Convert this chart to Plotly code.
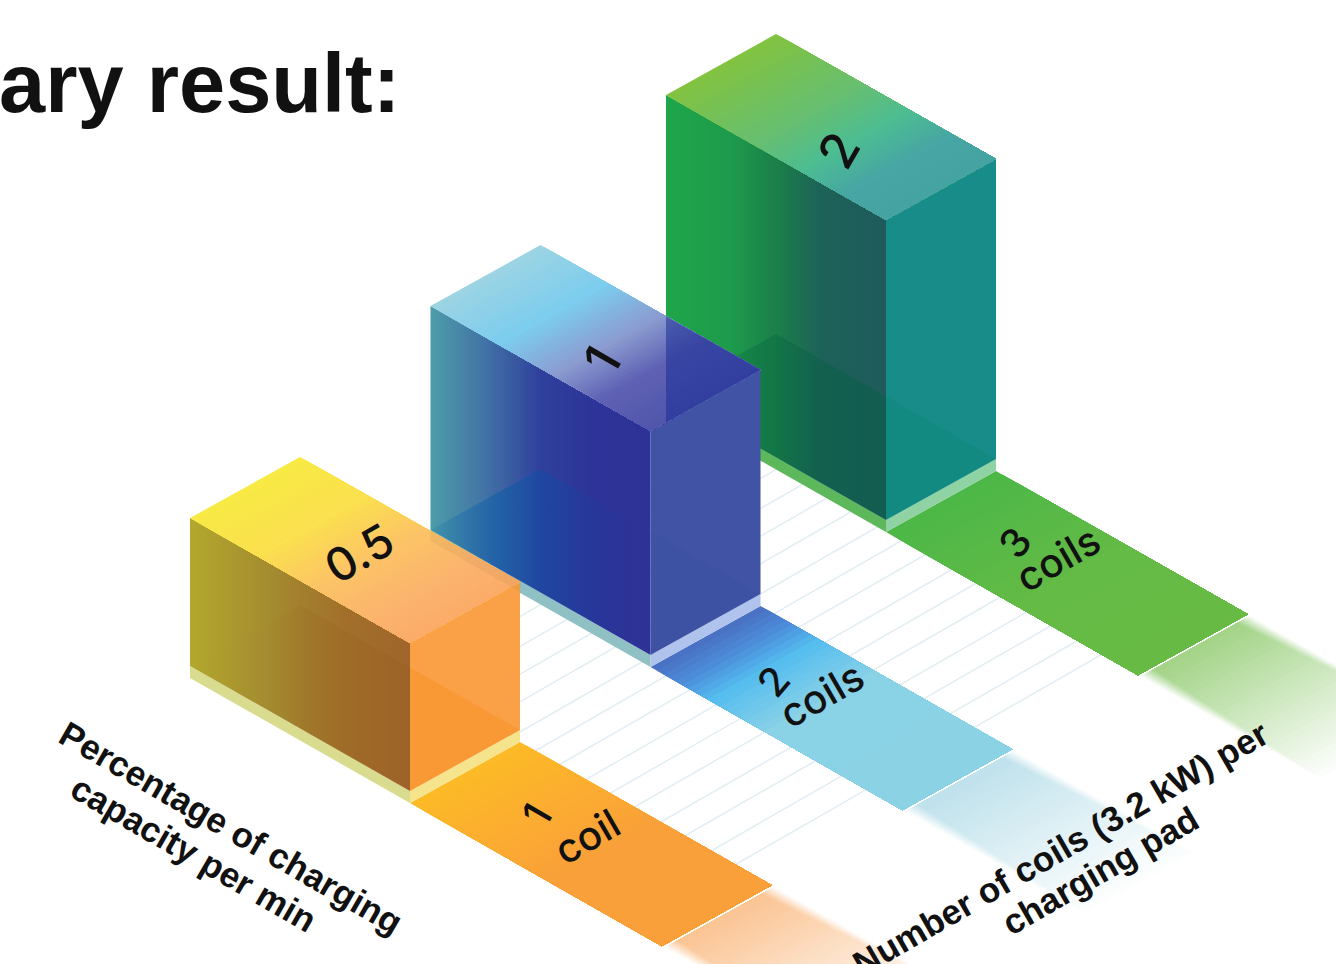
import math
import plotly.graph_objects as go

# ---------- data ----------
coil_counts = [1, 2, 3]
coil_words = ["coil", "coils", "coils"]
charging_rates = [0.5, 1, 2]
rate_labels = ["0.5", "1", "2"]
grid_ticks = [-0.95, -0.84, -0.72, -0.61, -0.50, -0.38, -0.27, -0.16, -0.04,
              0.07, 0.18, 0.30, 0.41, 0.52, 0.64, 0.75, 0.87, 0.98]
title_text = "ary result:"
x_title_lines = ["Percentage of charging", "capacity per min"]
y_title_lines = ["Number of coils (3.2 kW) per", "charging pad"]

# ---------- scales: isometric projection, heights on a log2 scale ----------
OX, OY = 410.0, 791.0
STEP = (238.0, -135.5)
U = (220.0, 125.0)
V = (110.0, -61.0)
FLOOR = -12.0
NUDGE = {1: (0, 0), 2: (2.5, -0.5), 3: (0, 0)}


def height(rate):
    return 224.0 + 76.0 * math.log2(rate)


def pt(coil, u, v, h=0.0):
    nx, ny = NUDGE[coil]
    return (OX + (coil - 1) * STEP[0] + u * U[0] + v * V[0] + nx,
            OY + (coil - 1) * STEP[1] + u * U[1] + v * V[1] - h + ny)


# ---------- styles ----------
def hex2rgb(c):
    c = c.lstrip("#")
    return tuple(int(c[i:i + 2], 16) for i in (0, 2, 4))


def ramp(stops, s):
    for (a, ca), (b, cb) in zip(stops, stops[1:]):
        if s <= b:
            t = (s - a) / (b - a)
            A, B = hex2rgb(ca), hex2rgb(cb)
            return "rgb(%d,%d,%d)" % tuple(A[i] + (B[i] - A[i]) * t for i in range(3))
    return stops[-1][1]


def mix_white(col, a):
    r = hex2rgb(col)
    return "rgb(%d,%d,%d)" % tuple(255 + (r[i] - 255) * a for i in range(3))


STYLE = {
    1: dict(left=[[0, "#B3A82D"], [.35, "#A48C30"], [.7, "#A2702B"], [1, "#A0652B"]],
            top=[(0, "#F8EA45"), (.3, "#FBE04F"), (.55, "#FDC566"), (.8, "#FBB46E"), (1, "#FBAC68")],
            right="#FAA046",
            base_l=[[0, "rgba(130,70,10,0.0)"], [.4, "rgba(130,70,10,0.02)"], [.55, "rgba(130,70,10,0.10)"], [1, "rgba(130,70,10,0.10)"]],
            base_r="rgba(250,140,20,0.30)",
            rim_l="#D9DB8E", rim_r="#F6E48C",
            strip=[(0, "#FDBA27"), (.3, "#FCAC32"), (.55, "#F9A03A"), (1, "#F9A03A")],
            fade="#FBC594", lab=(.477, .49)),
    2: dict(left=[[0, "#4D9DA9"], [.25, "#4272A6"], [.5, "#2F409C"], [.75, "#2D3398"], [1, "#2E3296"]],
            top=[(0, "#9CD4E4"), (.3, "#7CCDEF"), (.55, "#8B9BD0"), (.75, "#5F62B4"), (1, "#5156AC")],
            right="#4053A5",
            base_l=[[0, "rgba(0,100,170,0.15)"], [.3, "rgba(0,90,170,0.45)"], [.55, "rgba(0,80,170,0.30)"], [1, "rgba(30,50,150,0.0)"]],
            base_r="rgba(40,60,150,0.06)",
            rim_l="#8FC0C4", rim_r="#AFC3EC",
            strip=[(0, "#4A72C4"), (.1, "#4C8CD8"), (.22, "#55BDF0"), (.45, "#8AD2E6"), (1, "#8CD2E4")],
            fade="#BFE2EC", lab=(.394, .351)),
    3: dict(left=[[0, "#1EA649"], [.3, "#1E9A4C"], [.5, "#1A8049"], [.7, "#1D6258"], [1, "#1F5A5C"]],
            top=[(0, "#82C341"), (.4, "#66BF73"), (.6, "#4DBD92"), (.8, "#48A6A5"), (1, "#45A4A2")],
            right="#178C88",
            base_l=[[0, "rgba(0,90,60,0.2)"], [1, "rgba(0,95,65,0.42)"]],
            base_r="rgba(0,130,100,0.18)",
            rim_l="#5DB85C", rim_r="#8FD3A5",
            strip=[(0, "#4DB848"), (.5, "#64BB46"), (1, "#68BC45")],
            fade="#A3D487", lab=(.39, .35)),
}

fig = go.Figure()


def poly(points, color=None, gradient=None):
    xs = [p[0] for p in points] + [points[0][0]]
    ys = [p[1] for p in points] + [points[0][1]]
    kw = dict(fillgradient=dict(type="horizontal", colorscale=gradient)) if gradient else dict(fillcolor=color)
    fig.add_trace(go.Scatter(x=xs, y=ys, mode="lines", fill="toself",
                             line=dict(width=0, color="rgba(0,0,0,0)"),
                             hoverinfo="skip", showlegend=False, **kw))


# floor grid
for g in grid_ticks:
    a, b = pt(coil_counts[0], g, 1, FLOOR), pt(coil_counts[-1], g, 0, FLOOR)
    fig.add_trace(go.Scatter(x=[a[0], b[0]], y=[a[1], b[1]], mode="lines",
                             line=dict(color="#E2EEF3", width=1.5),
                             hoverinfo="skip", showlegend=False))

STRIP_LEN = 1.145
FADE_LEN = 0.82

# floor strips and their fade-outs
for c in coil_counts:
    st = STYLE[c]
    N = 40
    for i in range(N):
        s = i / N
        poly([pt(c, s * STRIP_LEN, 0, FLOOR), pt(c, STRIP_LEN, 0, FLOOR),
              pt(c, STRIP_LEN, 1, FLOOR), pt(c, s * STRIP_LEN, 1, FLOOR)], ramp(st["strip"], s))
    L = 30
    for k in range(1, L + 1):
        a = k / L
        u0 = STRIP_LEN + 0.012
        u1 = u0 + FADE_LEN * (1 - a) + 0.02
        inset = 0.12 * a
        poly([pt(c, u0, inset, FLOOR), pt(c, u1, inset, FLOOR),
              pt(c, u1, 1 - inset, FLOOR), pt(c, u0, 1 - inset, FLOOR)], mix_white(st["fade"], a))

# bars, back to front
for c, rate in reversed(list(zip(coil_counts, charging_rates))):
    st = STYLE[c]
    h = height(rate)
    # rims
    poly([pt(c, -1, 0, 0), pt(c, 0, 0, 0), pt(c, 0, 0, FLOOR), pt(c, -1, 0, FLOOR)], st["rim_l"])
    poly([pt(c, 0, 0, 0), pt(c, 0, 1, 0), pt(c, 0, 1, FLOOR), pt(c, 0, 0, FLOOR)], st["rim_r"])
    # faces
    poly([pt(c, -1, 0, 0), pt(c, 0, 0, 0), pt(c, 0, 0, h), pt(c, -1, 0, h)], gradient=st["left"])
    poly([pt(c, 0, 0, 0), pt(c, 0, 1, 0), pt(c, 0, 1, h), pt(c, 0, 0, h)], st["right"])
    N = 60
    for i in range(N):
        s = i / N
        poly([pt(c, -1 + s, 0, h), pt(c, 0, 0, h), pt(c, 0, 1, h), pt(c, -1 + s, 1, h)], ramp(st["top"], s))
    # see-through base rhombus
    poly([pt(c, -1, 0, 0), pt(c, -1, 1, 0), pt(c, -.5, 1, 0), pt(c, 0, 0, 0)], gradient=st["base_l"])
    poly([pt(c, -.5, 1, 0), pt(c, 0, 1, 0), pt(c, 0, 0, 0)], st["base_r"])
    # neighbour behind showing through the top
    if c < coil_counts[-1]:
        fx = pt(c, 0, 0)[0]
        gx = pt(c + 1, -1, 0)[0]
        ub = (gx - fx - V[0]) / U[0]
        vf = (gx - fx) / V[0]
        if vf < 1:
            if c == 2:
                poly([pt(c, ub, 1, h), pt(c, 0, 1, h), pt(c, 0, vf, h)], "rgba(25,45,150,0.55)")
            else:
                poly([pt(c + 1, -1, 0, 0), pt(c + 1, -.59, 0, 0),
                      pt(c + 1, -.59, 0, FLOOR + 1), pt(c + 1, -1, 0, FLOOR + 1)], "rgba(150,110,60,0.10)")

# ---------- texts ----------
MONT = "Inter"
SANS = "Liberation Sans"


def label(x, y, text, size, angle, family=MONT, weight=None):
    font = dict(family=family, size=size, color="#111111")
    if weight:
        font["weight"] = weight
    fig.add_annotation(x=x, y=y, xref="x", yref="y", text=text, showarrow=False,
                       textangle=angle, xanchor="center", yanchor="middle", font=font)


for c, rate, txt in zip(coil_counts, charging_rates, rate_labels):
    a, b = STYLE[c]["lab"]
    x, y = pt(c, -a, b, height(rate))
    label(x, y, txt, 46 if len(txt) > 1 else 50, -30 if len(txt) > 1 else -60, weight=500)

strip_pos = {1: ((.334, .488), (.531, .547)), 2: ((.334, .447), (.496, .566)), 3: ((.33, .512), (.491, .58))}
for c, word in zip(coil_counts, coil_words):
    (u1, v1), (u2, v2) = strip_pos[c]
    x, y = pt(c, u1, v1, FLOOR)
    label(x, y, str(c), 40, -60 if c == 1 else -50, weight=500)
    x, y = pt(c, u2, v2, FLOOR)
    label(x, y, word, 40, -30, weight=500)

label(231, 827, "<b>%s</b>" % x_title_lines[0], 35, 30, SANS)
label(194, 853, "<b>%s</b>" % x_title_lines[1], 35, 30, SANS)
label(1060, 848, "<b>%s</b>" % y_title_lines[0], 35, -30, SANS)
label(1100, 870, "<b>%s</b>" % y_title_lines[1], 35, -30, SANS)

fig.add_annotation(x=402, y=83, xref="x", yref="y", text="<b>%s</b>" % title_text, showarrow=False,
                   xanchor="right", yanchor="middle",
                   font=dict(family=SANS, size=83, color="#111111"))

fig.update_layout(width=1336, height=964, margin=dict(l=0, r=0, t=0, b=0),
                  paper_bgcolor="white", plot_bgcolor="white", showlegend=False,
                  xaxis=dict(range=[0, 1336], visible=False, fixedrange=True),
                  yaxis=dict(range=[964, 0], visible=False, fixedrange=True))

fig.write_html("out.html", config={"displayModeBar": False},
               post_script="document.body.style.margin='0';document.body.style.overflow='hidden';")
